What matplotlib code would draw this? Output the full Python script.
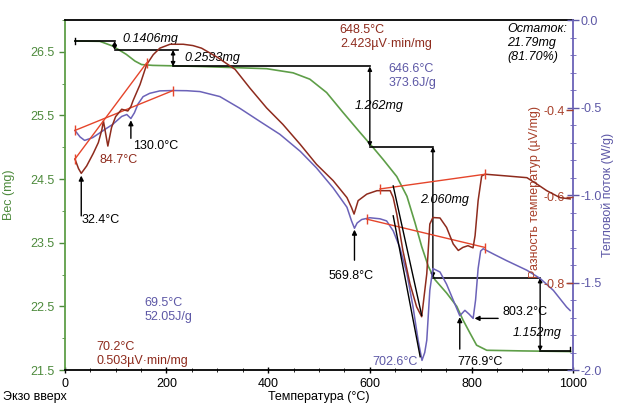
import matplotlib
matplotlib.use('Agg')
import matplotlib.pyplot as plt
from matplotlib.ticker import MultipleLocator

plt.rcParams['font.family'] = ['Liberation Sans', 'DejaVu Sans']
plt.rcParams['font.size'] = 9
plt.rcParams['axes.unicode_minus'] = False

# ТГ: вес образца, mg
tg_temp = [20, 69, 94.5, 121, 138, 151, 173, 266, 397, 449, 482, 515, 547, 581, 606, 626,
           653, 673, 689, 702, 715, 728, 751, 771, 783, 797, 810, 830, 900, 995]
tg_mass = [26.67, 26.665, 26.59, 26.46, 26.355, 26.30, 26.287, 26.27, 26.235, 26.17, 26.07,
           25.86, 25.55, 25.23, 25.0, 24.81, 24.54, 24.23, 23.81, 23.44, 23.13, 22.92, 22.71,
           22.5, 22.29, 22.08, 21.89, 21.81, 21.80, 21.79]

# ДСК: тепловой поток, W/g
hf_temp = [20, 30, 39, 55, 79, 94, 112, 122, 130, 137, 144, 154, 167, 187, 213, 240, 266, 305,
           344, 384, 423, 463, 495, 528, 555, 564, 569.8, 575, 584, 600, 620, 633, 646, 659,
           673, 685, 695, 702.6, 708, 712, 718, 724, 738, 751, 764, 776.9, 787, 795, 803.2,
           808, 813, 818, 823, 845, 869, 909, 935, 961, 987, 994]
hf_flow = [-0.631, -0.668, -0.688, -0.672, -0.625, -0.597, -0.551, -0.540, -0.563, -0.53,
           -0.48, -0.438, -0.419, -0.405, -0.403, -0.404, -0.409, -0.4375, -0.504, -0.58,
           -0.653, -0.75, -0.845, -0.96, -1.07, -1.148, -1.19, -1.16, -1.14, -1.13, -1.136,
           -1.148, -1.205, -1.30, -1.45, -1.64, -1.83, -1.945, -1.90, -1.83, -1.545, -1.42,
           -1.44, -1.51, -1.60, -1.69, -1.659, -1.68, -1.705, -1.60, -1.42, -1.32, -1.307,
           -1.34, -1.375, -1.43, -1.477, -1.545, -1.64, -1.66]

# ДТА: разность температур, µV/mg
dta_temp = [20, 27, 32.4, 43, 56, 66, 73, 76, 84.7, 92, 100, 112, 124, 130, 134, 148, 161, 174,
            187, 207, 233, 252, 269, 300, 335, 364, 397, 429, 463, 495, 528, 555, 564, 569,
            577, 594, 614, 640, 646, 653, 665, 679, 692, 702, 712, 718, 724, 738, 751, 764,
            774, 783, 793, 803, 807, 813, 820, 827, 869, 909, 929, 948, 974, 994]
dta_val = [-0.513, -0.535, -0.546, -0.529, -0.50, -0.475, -0.445, -0.425, -0.483, -0.44,
           -0.415, -0.398, -0.402, -0.392, -0.379, -0.341, -0.295, -0.272, -0.257, -0.248,
           -0.248, -0.251, -0.257, -0.278, -0.306, -0.349, -0.395, -0.433, -0.479, -0.525,
           -0.563, -0.602, -0.625, -0.640, -0.609, -0.594, -0.586, -0.586, -0.602, -0.640,
           -0.724, -0.801, -0.854, -0.877, -0.778, -0.663, -0.648, -0.649, -0.671, -0.709,
           -0.724, -0.717, -0.713, -0.718, -0.69, -0.609, -0.552, -0.548, -0.552, -0.556,
           -0.571, -0.586, -0.602, -0.605]

# базовые линии интегрирования пиков
hf_base1 = ([20, 213], [-0.631, -0.403])
hf_base2 = ([594, 827], [-1.138, -1.30])
dta_base1 = ([20, 161], [-0.513, -0.291])
dta_base2 = ([620, 827], [-0.582, -0.548])

# ступени потери массы
mass_start = 26.67
mass_losses = [0.1406, 0.2593, 1.262, 2.060, 1.152]
loss_temps = [98, 213, 600, 724, 935]
loss_labels = ['0.1406mg', '0.2593mg', '1.262mg', '2.060mg', '1.152mg']
loss_label_pos = [(114, 26.70), (236, 26.40), (571, 25.65), (699, 24.17), (880, 22.08)]

green = '#5e9e48'
green_txt = '#4d8a3c'
purple = '#6b62b8'
purple_txt = '#5d58a6'
brown = '#8e2b1d'
brown_txt = '#a8402a'
red = '#e5452b'

fig = plt.figure(figsize=(6.17, 4.05), dpi=100)
ax = fig.add_axes([0.105, 0.0864, 0.824, 0.8642])
ax2 = ax.twinx()
ax3 = ax.twinx()

# вес
ax.plot(tg_temp, tg_mass, color=green, lw=1.2)
ax.set_xlim(0, 1000)
ax.set_ylim(21.5, 27.0)
ax.set_yticks([21.5, 22.5, 23.5, 24.5, 25.5, 26.5])
ax.yaxis.set_minor_locator(MultipleLocator(0.5))
ax.xaxis.set_major_locator(MultipleLocator(200))
ax.xaxis.set_minor_locator(MultipleLocator(50))
ax.tick_params(axis='y', colors=green_txt, length=4, width=1)
ax.tick_params(axis='y', which='minor', colors=green_txt, length=2.5)
ax.tick_params(axis='x', direction='inout', length=5, width=1)
ax.tick_params(axis='x', which='minor', direction='inout', length=3)
ax.spines['left'].set_color(green)
ax.spines['right'].set_visible(False)
for s in ['left', 'top', 'bottom']:
    ax.spines[s].set_linewidth(1.3)
ax.set_ylabel('Вес (mg)', color=green_txt, va='center')
ax.yaxis.set_label_coords(-0.11, 0.5)
ax.set_xlabel('Температура (°C)', va='center')
ax.xaxis.set_label_coords(0.5, -0.077)
fig.text(3 / 617, 1 - 397 / 405, 'Экзо вверх', ha='left', va='center')

# ступени и стрелки
level = mass_start
prev_t = 20
ax.plot([20, 20], [level - 0.04, level + 0.04], color='k', lw=1)
for i, loss in enumerate(mass_losses):
    t = loss_temps[i]
    end_t = t if i != 1 else t + 9
    ax.plot([prev_t, end_t], [level, level], color='k', lw=1.2, zorder=4)
    ax.annotate('', xy=(t, level - loss), xytext=(t, level),
                arrowprops=dict(arrowstyle='<|-|>', color='k', lw=1,
                                mutation_scale=6, shrinkA=0, shrinkB=0), zorder=4)
    ax.text(loss_label_pos[i][0], loss_label_pos[i][1], loss_labels[i],
            style='italic', ha='left', va='center')
    level -= loss
    prev_t = t
ax.plot([prev_t, 993], [level, level], color='k', lw=1.2, zorder=4)
ax.plot([993, 993], [level, level + 0.07], color='k', lw=1)

# тепловой поток
ax2.plot(hf_temp, hf_flow, color=purple, lw=1.1)
ax2.plot(*hf_base1, color=red, lw=1, marker='|', ms=7)
ax2.plot(*hf_base2, color=red, lw=1, marker='|', ms=7)
ax2.plot([646, 699], [-1.119, -1.924], color='k', lw=1)
ax2.set_ylim(-2.0, 0.0)
ax2.set_yticks([-2.0, -1.5, -1.0, -0.5, 0.0])
ax2.yaxis.set_minor_locator(MultipleLocator(0.1))
ax2.tick_params(axis='y', direction='inout', length=8, width=1, pad=1, colors=purple_txt)
ax2.tick_params(axis='y', which='minor', direction='inout', length=5, colors=purple)
for s in ['left', 'top', 'bottom']:
    ax2.spines[s].set_visible(False)
ax2.spines['right'].set_color(purple)
ax2.spines['right'].set_linewidth(1.3)
ax2.set_ylabel('Тепловой поток (W/g)', color=purple_txt, va='center')
ax2.yaxis.set_label_coords(1.068, 0.5)

# ДТА
ax3.plot(dta_temp, dta_val, color=brown, lw=1.1)
ax3.plot(*dta_base1, color=red, lw=1, marker='|', ms=7)
ax3.plot(*dta_base2, color=red, lw=1, marker='|', ms=7)
ax3.plot([646, 702], [-0.575, -0.874], color='k', lw=1)
ax3.set_ylim(-1.0, -0.192)
ax3.set_yticks([-0.8, -0.6, -0.4], ['-0.8', '-0.6', '-0.4'], ha='right')
ax3.tick_params(axis='y', direction='in', length=5, width=1, pad=-6, colors=brown_txt)
for s in ax3.spines.values():
    s.set_visible(False)
ax3.set_ylabel('Разность температур (µV/mg)', color=brown_txt, va='center')
ax3.yaxis.set_label_coords(0.925, 0.51)

# подписи пиков
arrow = dict(arrowstyle='-|>', color='k', lw=1, mutation_scale=7, shrinkA=0, shrinkB=1)
ax2.annotate('', xy=(130, -0.565), xytext=(0, -14), textcoords='offset points', arrowprops=arrow)
ax3.annotate('', xy=(32.4, -0.548), xytext=(0, -30), textcoords='offset points', arrowprops=arrow)
ax2.annotate('', xy=(569.8, -1.19), xytext=(0, -23), textcoords='offset points', arrowprops=arrow)
ax2.annotate('', xy=(776.9, -1.69), xytext=(0, -24), textcoords='offset points', arrowprops=arrow)
ax2.annotate('', xy=(803.2, -1.705), xytext=(18, 0), textcoords='offset points', arrowprops=arrow)

ax.text(134, 25.02, '130.0°C', va='center')
ax.text(69, 24.80, '84.7°C', va='center', color=brown)
ax.text(33, 23.86, '32.4°C', va='center')
ax.text(518, 22.98, '569.8°C', va='center')
ax.text(604, 21.63, '702.6°C', va='center', color=purple_txt)
ax.text(772, 21.63, '776.9°C', va='center')
ax.text(860, 22.41, '803.2°C', va='center')
ax.text(541, 26.94, '648.5°C\n2.423µV·min/mg', va='top', color=brown)
ax.text(636, 26.32, '646.6°C\n373.6J/g', va='top', color=purple_txt)
ax.text(870, 26.95, 'Остаток:\n21.79mg\n(81.70%)', va='top', style='italic')
ax.text(157, 22.65, '69.5°C\n52.05J/g', va='top', color=purple_txt)
ax.text(63, 21.96, '70.2°C\n0.503µV·min/mg', va='top', color=brown)

fig.savefig('out.png', dpi=100)
